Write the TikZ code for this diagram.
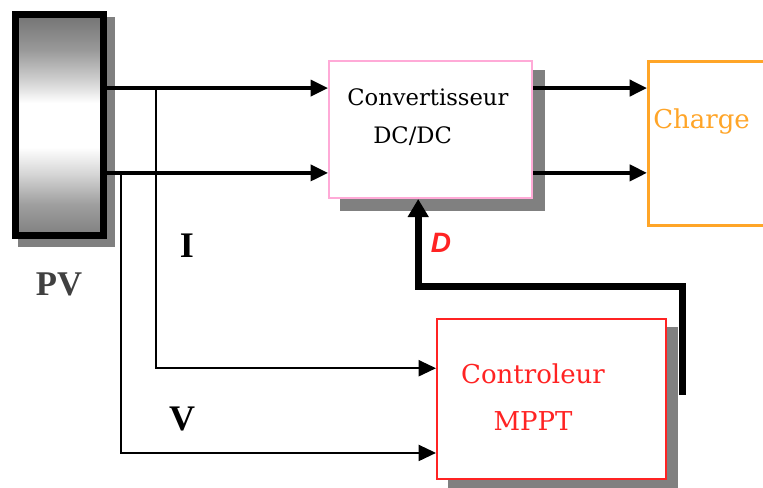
\documentclass[tikz,border=0pt]{standalone}
\usepackage{fontspec}
\newfontfamily\blockfont{DejaVu Serif}
\newfontfamily\signalfont{Liberation Serif}
\newfontfamily\dutyfont{Liberation Sans}
\usetikzlibrary{arrows.meta,positioning,calc,backgrounds}
\definecolor{convpink}{RGB}{255,170,215}
\definecolor{loadorange}{RGB}{255,165,40}
\definecolor{ctrlred}{RGB}{255,35,35}
\definecolor{shadowgray}{RGB}{128,128,128}
\newcommand{\px}{0.75pt}
\pgfdeclareverticalshading{pvpanel}{100bp}{%
  color(0bp)=(black!50); color(25bp)=(black!50); color(32bp)=(black!38);
  color(39bp)=(black!16); color(45bp)=(white); color(55bp)=(white);
  color(60bp)=(black!18); color(67bp)=(black!40);
  color(75bp)=(black!55); color(100bp)=(black!55)}

\begin{document}
\begin{tikzpicture}[
  x=0.75pt, y=-0.75pt,
  >={Triangle[length=13pt,width=12pt]},
  pvbox/.style={draw=black, line width=5.25pt, inner sep=0pt,
    minimum width=88*\px, minimum height=221*\px, shading=pvpanel},
  convbox/.style={draw=convpink, line width=1.5pt, fill=white, inner sep=0pt,
    minimum width=203*\px, minimum height=137*\px},
  loadbox/.style={draw=loadorange, line width=2.25pt, fill=white, inner sep=0pt,
    minimum width=160*\px, minimum height=164*\px},
  ctrlbox/.style={draw=ctrlred, line width=1.5pt, fill=white, inner sep=0pt,
    minimum width=229*\px, minimum height=160*\px},
  shadow/.style={fill=shadowgray},
  inwire/.style={draw, line width=2.6pt},
  outwire/.style={draw, line width=3pt},
  sensewire/.style={draw, line width=1.5pt},
  dutywire/.style={draw, line width=5.25pt, line join=miter,
    >={Triangle[length=13.5pt,width=15pt]}},
  blocktext/.style={inner sep=0pt, font=\blockfont\fontsize{17pt}{28.5pt}\selectfont},
  signal/.style={inner sep=0pt, font=\signalfont\bfseries\fontsize{27pt}{30pt}\selectfont}
]
  \useasboundingbox (0,0) rectangle (763,487);

  % blocks
  \node[pvbox] (pv) at (59.5,125) {};
  \node[convbox] (conv) at (430.5,129.5) {};
  \node[loadbox] (charge) at (728.5,143.5) {};
  \node[ctrlbox] (mppt) at (551.5,399) {};

  \begin{scope}[on background layer]
    \fill[shadow] ($(pv.north west)+(6,6)$) rectangle ($(pv.south east)+(8,8)$);
    \fill[shadow] ($(conv.north west)+(12,10)$) rectangle ($(conv.south east)+(12,12)$);
    \fill[shadow] ($(mppt.north west)+(12,9)$) rectangle ($(mppt.south east)+(11,12)$);
  \end{scope}

  % block texts (base = last line)
  \node[blocktext, anchor=base west, align=left] (convtxt) at (347,143)
    {Convertisseur\\\hspace*{19.5pt}DC/DC};
  \node[blocktext, anchor=base west, text=loadorange,
    font=\blockfont\fontsize{19.5pt}{24pt}\selectfont] (chargetxt) at (653,128) {Charge};
  \node[blocktext, anchor=base, align=center, text=ctrlred,
    font=\blockfont\fontsize{19.5pt}{35pt}\selectfont] (mppttxt) at (533,430)
    {Controleur\\MPPT};
  \node[signal, anchor=base, text=black!75, font=\signalfont\bfseries\fontsize{26pt}{30pt}\selectfont]
    (pvtxt) at (59,295) {PV};
  \node[signal, anchor=base] (itxt) at (187,257) {I};
  \node[signal, anchor=base] (vtxt) at (182,430) {V};
  \node[anchor=base, inner sep=0pt, text=ctrlred,
    font=\dutyfont\bfseries\itshape\fontsize{21pt}{24pt}\selectfont] (dtxt) at (441,252) {D};

  % taps and ports
  \coordinate (pvtop) at ($(pv.north east)!0.338!(pv.south east)$);
  \coordinate (pvbot) at ($(pv.north east)!0.71!(pv.south east)$);
  \coordinate (itap) at ($(pvtop)+(49,0)$);
  \coordinate (vtap) at ($(pvbot)+(14,0)$);
  \coordinate (iin) at ($(mppt.north west)!0.31!(mppt.south west)$);
  \coordinate (vin) at ($(mppt.north west)!0.833!(mppt.south west)$);
  \coordinate (dstart) at ($(mppt.east)+(15,-4)$);
  \coordinate (dtip) at ($(conv.south west)!0.44!(conv.south east)$);
  \coordinate (dbend) at ($(dtip)+(0,87)$);

  % connectors
  \draw[inwire,->] (pvtop) -- (pvtop -| conv.west);
  \draw[inwire,->] (pvbot) -- (pvbot -| conv.west);
  \draw[outwire,->] (pvtop -| conv.east) -- (pvtop -| charge.west);
  \draw[outwire,->] (pvbot -| conv.east) -- (pvbot -| charge.west);
  \draw[sensewire,->] (itap) |- (iin);
  \draw[sensewire,->] (vtap) |- (vin);
  \draw[dutywire,->] (dstart) |- (dbend) -- (dtip);
\end{tikzpicture}
\end{document}
